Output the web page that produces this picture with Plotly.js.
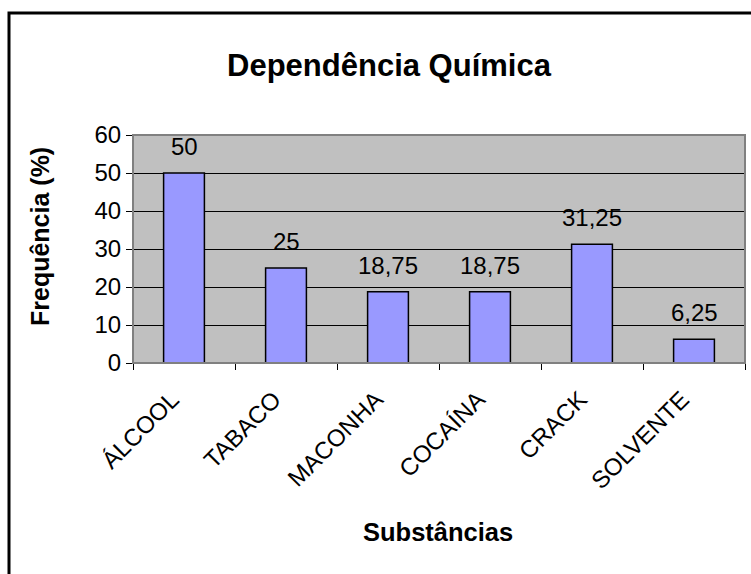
<!DOCTYPE html>
<html>
<head>
<meta charset="utf-8">
<script src="https://cdn.plot.ly/plotly-3.0.1.min.js"></script>
<style>html,body{margin:0;padding:0;background:#fff;}#chart{width:751px;height:574px;}</style>
</head>
<body>
<div id="chart"></div>
<script>
const categories = ["ÁLCOOL", "TABACO", "MACONHA", "COCAÍNA", "CRACK", "SOLVENTE"];
const values = [50, 25, 18.75, 18.75, 31.25, 6.25];
const valueLabels = ["50", "25", "18,75", "18,75", "31,25", "6,25"];
const yTicks = [0, 10, 20, 30, 40, 50, 60];

const FONT = "Liberation Sans, Arial, sans-serif";

const trace = {
  type: "bar",
  x: categories,
  y: values,
  marker: { color: "#9999FF", line: { color: "#000000", width: 1.5 } },
  hoverinfo: "none"
};

const labelAnnotations = categories.map((c, i) => ({
  x: c, y: values[i], xref: "x", yref: "y",
  text: valueLabels[i], showarrow: false,
  yanchor: "bottom", yshift: 11,
  font: { family: FONT, size: 24, color: "#000" }
}));

const layout = {
  width: 751, height: 574,
  margin: { l: 133, r: 6, t: 135, b: 211 },
  paper_bgcolor: "#FFFFFF",
  plot_bgcolor: "#C0C0C0",
  bargap: 0.6,
  showlegend: false,
  title: {
    text: "<b>Dependência Química</b>",
    x: 389 / 751, xanchor: "center",
    y: 1 - 65 / 574, yanchor: "middle",
    font: { family: FONT, size: 31, color: "#000" }
  },
  xaxis: {
    type: "category",
    tickangle: -45,
    tickson: "boundaries",
    ticks: "outside", ticklen: 6, tickcolor: "#000", tickwidth: 1,
    showline: true, linecolor: "#000", linewidth: 1,
    showgrid: false,
    ticklabelstandoff: 12,
    ticklabelshift: -12,
    tickfont: { family: FONT, size: 24, color: "#000" },
    automargin: false
  },
  yaxis: {
    range: [0, 60],
    tickvals: yTicks,
    ticktext: yTicks.map(String),
    ticks: "outside", ticklen: 6, tickcolor: "#000", tickwidth: 1,
    showline: true, linecolor: "#808080", linewidth: 1,
    showgrid: true, gridcolor: "#000", gridwidth: 1,
    zeroline: false,
    tickfont: { family: FONT, size: 24, color: "#000" },
    automargin: false
  },
  annotations: labelAnnotations.concat([
    {
      text: "<b>Frequência (%)</b>", xref: "paper", yref: "paper",
      x: (40 - 133) / 612, y: (363 - 237) / 228, textangle: -90,
      xanchor: "center", yanchor: "middle", showarrow: false,
      font: { family: FONT, size: 25, color: "#000" }
    },
    {
      text: "<b>Substâncias</b>", xref: "paper", yref: "paper",
      x: (438 - 133) / 612, y: (363 - 532) / 228,
      xanchor: "center", yanchor: "middle", showarrow: false,
      font: { family: FONT, size: 25.5, color: "#000" }
    }
  ]),
  shapes: [
    { type: "rect", xref: "paper", yref: "paper", x0: 0, x1: 1, y0: 0, y1: 1,
      line: { color: "#808080", width: 2 }, fillcolor: "rgba(0,0,0,0)", layer: "above" },
    { type: "rect", xref: "paper", yref: "paper",
      x0: (9 - 133) / 612, x1: 2, y0: -2, y1: (363 - 13) / 228,
      line: { color: "#000", width: 3 }, fillcolor: "rgba(0,0,0,0)", layer: "above" }
  ]
};

Plotly.newPlot("chart", [trace], layout, { staticPlot: true, displayModeBar: false });
</script>
</body>
</html>
